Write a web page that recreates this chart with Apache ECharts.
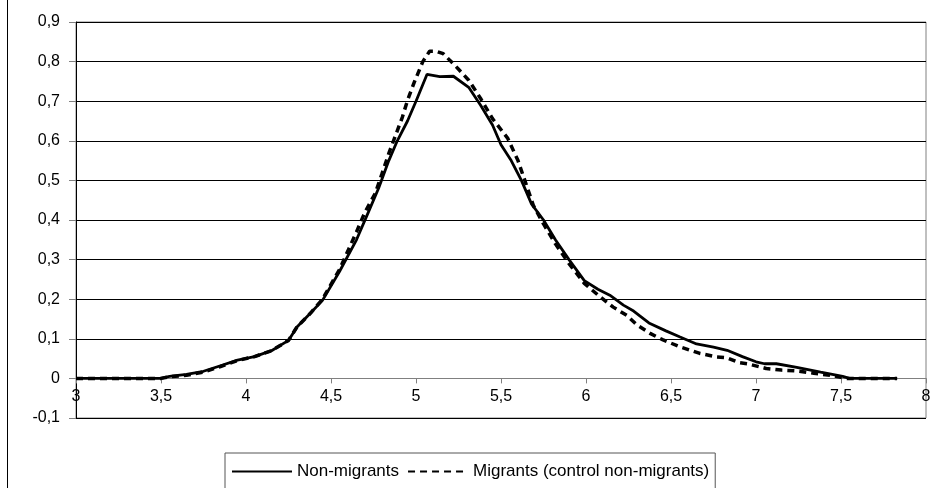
<!doctype html>
<html>
<head>
<meta charset="utf-8">
<title>Density - non-migrants vs migrants</title>
<script src="https://cdn.jsdelivr.net/npm/echarts@6/dist/echarts.min.js"></script>
<style>
  html, body { margin: 0; padding: 0; background: #fff; }
  #main { width: 942px; height: 488px; }
</style>
</head>
<body>
<div id="main"></div>
<script>
// values
var nonMigrantsX = [3.0, 3.5, 3.55, 3.65, 3.75, 3.85, 3.95, 4.05, 4.15, 4.25, 4.3, 4.38, 4.45, 4.55, 4.65, 4.72, 4.78, 4.84, 4.89, 4.95, 5.0, 5.065, 5.14, 5.22, 5.31, 5.38, 5.45, 5.5, 5.56, 5.62, 5.68, 5.75, 5.82, 5.9, 5.99, 6.07, 6.14, 6.22, 6.28, 6.37, 6.47, 6.55, 6.65, 6.75, 6.83, 6.92, 7.0, 7.05, 7.12, 7.24, 7.38, 7.51, 7.55, 7.83];
var nonMigrantsY = [0, 0, 0.005, 0.01, 0.018, 0.032, 0.046, 0.055, 0.07, 0.096, 0.13, 0.165, 0.197, 0.27, 0.35, 0.42, 0.48, 0.55, 0.6, 0.65, 0.70, 0.768, 0.762, 0.763, 0.735, 0.69, 0.64, 0.59, 0.55, 0.5, 0.44, 0.4, 0.35, 0.3, 0.247, 0.225, 0.21, 0.185, 0.17, 0.14, 0.12, 0.105, 0.087, 0.079, 0.071, 0.055, 0.042, 0.037, 0.037, 0.028, 0.016, 0.005, 0, 0];

var migrantsX = [3.0, 3.5, 3.55, 3.65, 3.75, 3.85, 3.95, 4.05, 4.15, 4.25, 4.3, 4.38, 4.45, 4.55, 4.65, 4.7, 4.76, 4.8, 4.84, 4.88, 4.92, 4.95, 4.99, 5.04, 5.08, 5.12, 5.16, 5.23, 5.31, 5.38, 5.45, 5.54, 5.6, 5.66, 5.69, 5.75, 5.82, 5.9, 5.99, 6.08, 6.16, 6.24, 6.3, 6.38, 6.45, 6.55, 6.67, 6.77, 6.83, 6.9, 6.95, 7.06, 7.15, 7.24, 7.34, 7.45, 7.53, 7.83];
var migrantsY = [0, 0, 0.004, 0.008, 0.016, 0.03, 0.045, 0.055, 0.07, 0.096, 0.13, 0.165, 0.2, 0.275, 0.37, 0.42, 0.467, 0.517, 0.568, 0.614, 0.66, 0.702, 0.748, 0.80, 0.826, 0.826, 0.82, 0.79, 0.753, 0.707, 0.656, 0.606, 0.55, 0.475, 0.437, 0.39, 0.34, 0.29, 0.24, 0.207, 0.18, 0.159, 0.135, 0.113, 0.098, 0.08, 0.063, 0.054, 0.052, 0.04, 0.037, 0.025, 0.021, 0.019, 0.013, 0.007, 0, 0];

var seriesNames = ['Non-migrants', 'Migrants (control non-migrants)'];

function pairs(xs, ys) {
    var out = [];
    for (var i = 0; i < xs.length; i++) {
        out.push([xs[i], ys[i]]);
    }
    return out;
}

function comma(v) {
    if (Math.abs(v) < 1e-9) return '0';
    return String(+v.toFixed(1)).replace('.', ',');
}

var chart = echarts.init(document.getElementById('main'), null, { renderer: 'canvas' });

var font = 'Liberation Sans, Arial, sans-serif';

chart.setOption({
    animation: false,
    backgroundColor: '#fff',
    textStyle: { fontFamily: font },
    graphic: [{
        type: 'line',
        shape: { x1: 7.5, y1: 0, x2: 7.5, y2: 488 },
        style: { stroke: '#000', lineWidth: 1 }
    }],
    grid: {
        left: 76, right: 16, top: 22, bottom: 70,
        show: true,
        borderColor: '#808080',
        borderWidth: 1
    },
    legend: {
        data: seriesNames,
        left: 225,
        top: 453,
        itemWidth: 60,
        itemHeight: 14,
        itemGap: 8,
        padding: [10, 6, 20, 6],
        backgroundColor: '#fff',
        borderColor: '#555',
        borderWidth: 1,
        itemStyle: { opacity: 0 },
        textStyle: { fontFamily: font, fontSize: 17, color: '#000' }
    },
    xAxis: {
        type: 'value',
        min: 3,
        max: 8,
        interval: 0.5,
        // the axis sits on y = 0, as in the original
        offset: -39.6,
        axisLine: { onZero: true, lineStyle: { color: '#808080', width: 1 } },
        axisTick: { show: true, length: 5, lineStyle: { color: '#808080' } },
        axisLabel: {
            formatter: comma,
            fontFamily: font,
            fontSize: 16,
            color: '#000',
            margin: 10
        },
        splitLine: { show: false }
    },
    yAxis: {
        type: 'value',
        min: -0.1,
        max: 0.9,
        interval: 0.1,
        axisLine: { show: true, lineStyle: { color: '#000', width: 1 } },
        axisTick: { show: true, length: 7, lineStyle: { color: '#808080' } },
        axisLabel: {
            formatter: comma,
            fontFamily: font,
            fontSize: 16,
            color: '#000',
            margin: 16
        },
        splitLine: { show: true, lineStyle: { color: '#000', width: 1 } }
    },
    series: [{
        name: seriesNames[0],
        type: 'line',
        symbol: 'none',
        smooth: false,
        z: 3,
        lineStyle: { color: '#000', width: 2.8, type: 'solid' },
        itemStyle: { color: '#000' },
        data: pairs(nonMigrantsX, nonMigrantsY)
    }, {
        name: seriesNames[1],
        type: 'line',
        symbol: 'none',
        smooth: false,
        z: 2,
        lineStyle: { color: '#000', width: 3.5, type: [7, 5] },
        itemStyle: { color: '#000' },
        data: pairs(migrantsX, migrantsY)
    }]
});

window.onresize = chart.resize;
</script>
</body>
</html>
